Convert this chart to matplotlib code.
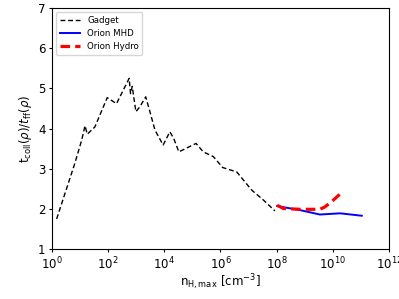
import numpy as np
import matplotlib
matplotlib.use("Agg")
import matplotlib.pyplot as plt

# values (log10 of density, ratio)
gadget_logn = [0.17, 0.82, 1.06, 1.18, 1.26, 1.53, 1.97, 2.30, 2.75, 2.80, 2.86, 2.99,
               3.13, 3.34, 3.49, 3.67, 3.96, 4.20, 4.34, 4.52, 5.13, 5.39, 5.75, 6.08,
               6.58, 7.11, 7.53, 7.94]
gadget_ratio = [1.75, 3.14, 3.71, 4.07, 3.86, 4.04, 4.77, 4.62, 5.25, 4.87, 5.05, 4.42,
                4.54, 4.79, 4.42, 3.96, 3.59, 3.92, 3.75, 3.42, 3.63, 3.42, 3.30, 3.03,
                2.92, 2.47, 2.22, 1.95]

mhd_logn = [8.02, 8.83, 9.54, 10.26, 11.03]
mhd_ratio = [2.07, 1.97, 1.86, 1.89, 1.83]

hydro_logn = [8.02, 8.24, 8.83, 9.54, 9.72, 10.02, 10.32]
hydro_ratio = [2.09, 2.01, 1.99, 1.99, 2.05, 2.22, 2.41]

fig = plt.figure(figsize=(3.99, 2.99), dpi=100)
ax = fig.add_axes([0.130, 0.167, 0.845, 0.806])

ax.plot(10**np.array(gadget_logn), gadget_ratio, 'k--', lw=1.0, dashes=(3.5, 2), label='Gadget')
ax.plot(10**np.array(mhd_logn), mhd_ratio, 'b-', lw=1.4, label='Orion MHD')
ax.plot(10**np.array(hydro_logn), hydro_ratio, 'r--', lw=2.3, dashes=(3, 1.6), label='Orion Hydro')

ax.set_xscale('log')
ax.set_xlim(1, 1e12)
ax.set_ylim(1, 7)
ax.set_xticks([1e0, 1e2, 1e4, 1e6, 1e8, 1e10, 1e12])
ax.minorticks_off()
ax.tick_params(labelsize=8.5, length=2.5, pad=2)
ax.set_xlabel(r'$\mathrm{n_{H,max}\ [cm^{-3}]}$', fontsize=8.5, labelpad=0)
ax.set_ylabel(r'$\mathrm{t_{coll}}(\rho)/t_{\rm ff}(\rho)$', fontsize=8.5, labelpad=3)
ax.legend(loc='upper left', fontsize=6.2, handlelength=2.4)

fig.savefig('out.png', dpi=100)
